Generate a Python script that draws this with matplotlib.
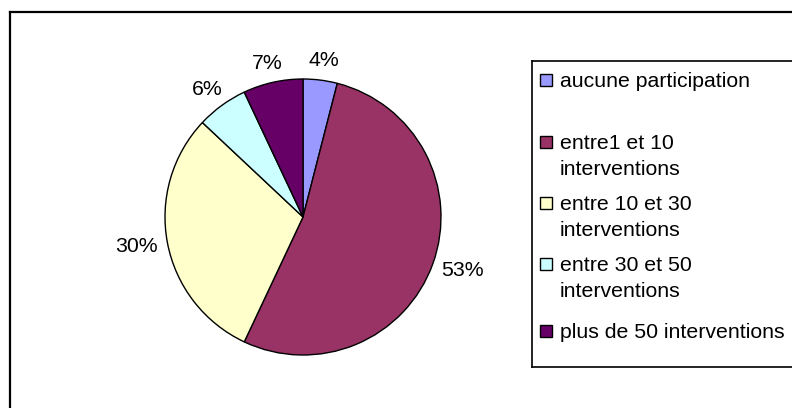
import matplotlib
matplotlib.use("Agg")
import matplotlib.pyplot as plt
import numpy as np
from matplotlib.patches import Rectangle
from matplotlib.lines import Line2D

plt.rcParams['font.family'] = ['Liberation Sans', 'DejaVu Sans']

labels = ["aucune participation",
          "entre1 et 10\ninterventions",
          "entre 10 et 30\ninterventions",
          "entre 30 et 50\ninterventions",
          "plus de 50 interventions"]
values = [4, 53, 30, 6, 7]
colors = ["#9999FF", "#993366", "#FFFFCC", "#CCFFFF", "#660066"]

W, H = 792, 408
FS = 15.3
fig = plt.figure(figsize=(W / 100, H / 100), dpi=100)

def fx(x):
    return x / W

def fy(y):
    return 1 - y / H

# outer chart frame (right and bottom are cut off in the original)
fig.add_artist(Line2D([fx(10), fx(10)], [fy(12), 0], color="black", lw=1.6))
fig.add_artist(Line2D([fx(10), 1], [fy(12), fy(12)], color="black", lw=1.6))

# pie
cx, cy, r = 303, 217, 138
ax = fig.add_axes([fx(cx - r), fy(cy + r), 2 * r / W, 2 * r / H])
wedges, texts, autotexts = ax.pie(
    values, colors=colors, startangle=90, counterclock=False,
    autopct="%1.0f%%", pctdistance=1.18,
    wedgeprops=dict(edgecolor="black", linewidth=1),
    textprops=dict(fontsize=FS, color="black"))
ax.set_xlim(-1, 1)
ax.set_ylim(-1, 1)
ax.axis("off")

# push each percentage out so its box sits just outside the pie (Excel style)
fig.canvas.draw()
rend = fig.canvas.get_renderer()
gap = 10 / r
for w, t in zip(wedges, autotexts):
    ang = np.deg2rad((w.theta1 + w.theta2) / 2)
    bb = t.get_window_extent(rend)
    hw, hh = bb.width / 2 / r, bb.height / 2 / r
    c, s = np.cos(ang), np.sin(ang)
    t.set_position(((1 + gap) * c + hw * c, (1 + gap) * s + hh * s))
    t.set_ha("center")
    t.set_va("center")

# legend box
lx, ltop, lbot = 532, 61, 367
fig.add_artist(Line2D([fx(lx), fx(lx)], [fy(ltop), fy(lbot)], color="black", lw=1.2))
fig.add_artist(Line2D([fx(lx), 1], [fy(ltop), fy(ltop)], color="black", lw=1.2))
fig.add_artist(Line2D([fx(lx), 1], [fy(lbot), fy(lbot)], color="black", lw=1.2))

baselines = [87, 149, 210, 271, 338]
sq = 12
for lab, col, yb in zip(labels, colors, baselines):
    fig.add_artist(Rectangle((fx(540), fy(yb - 1)), sq / W, sq / H,
                             facecolor=col, edgecolor="black", lw=1))
    lines = lab.split("\n")
    for i, line in enumerate(lines):
        fig.text(fx(560), fy(yb + 26 * i), line, fontsize=FS,
                 va="baseline", ha="left")

fig.savefig("out.png", dpi=100)
